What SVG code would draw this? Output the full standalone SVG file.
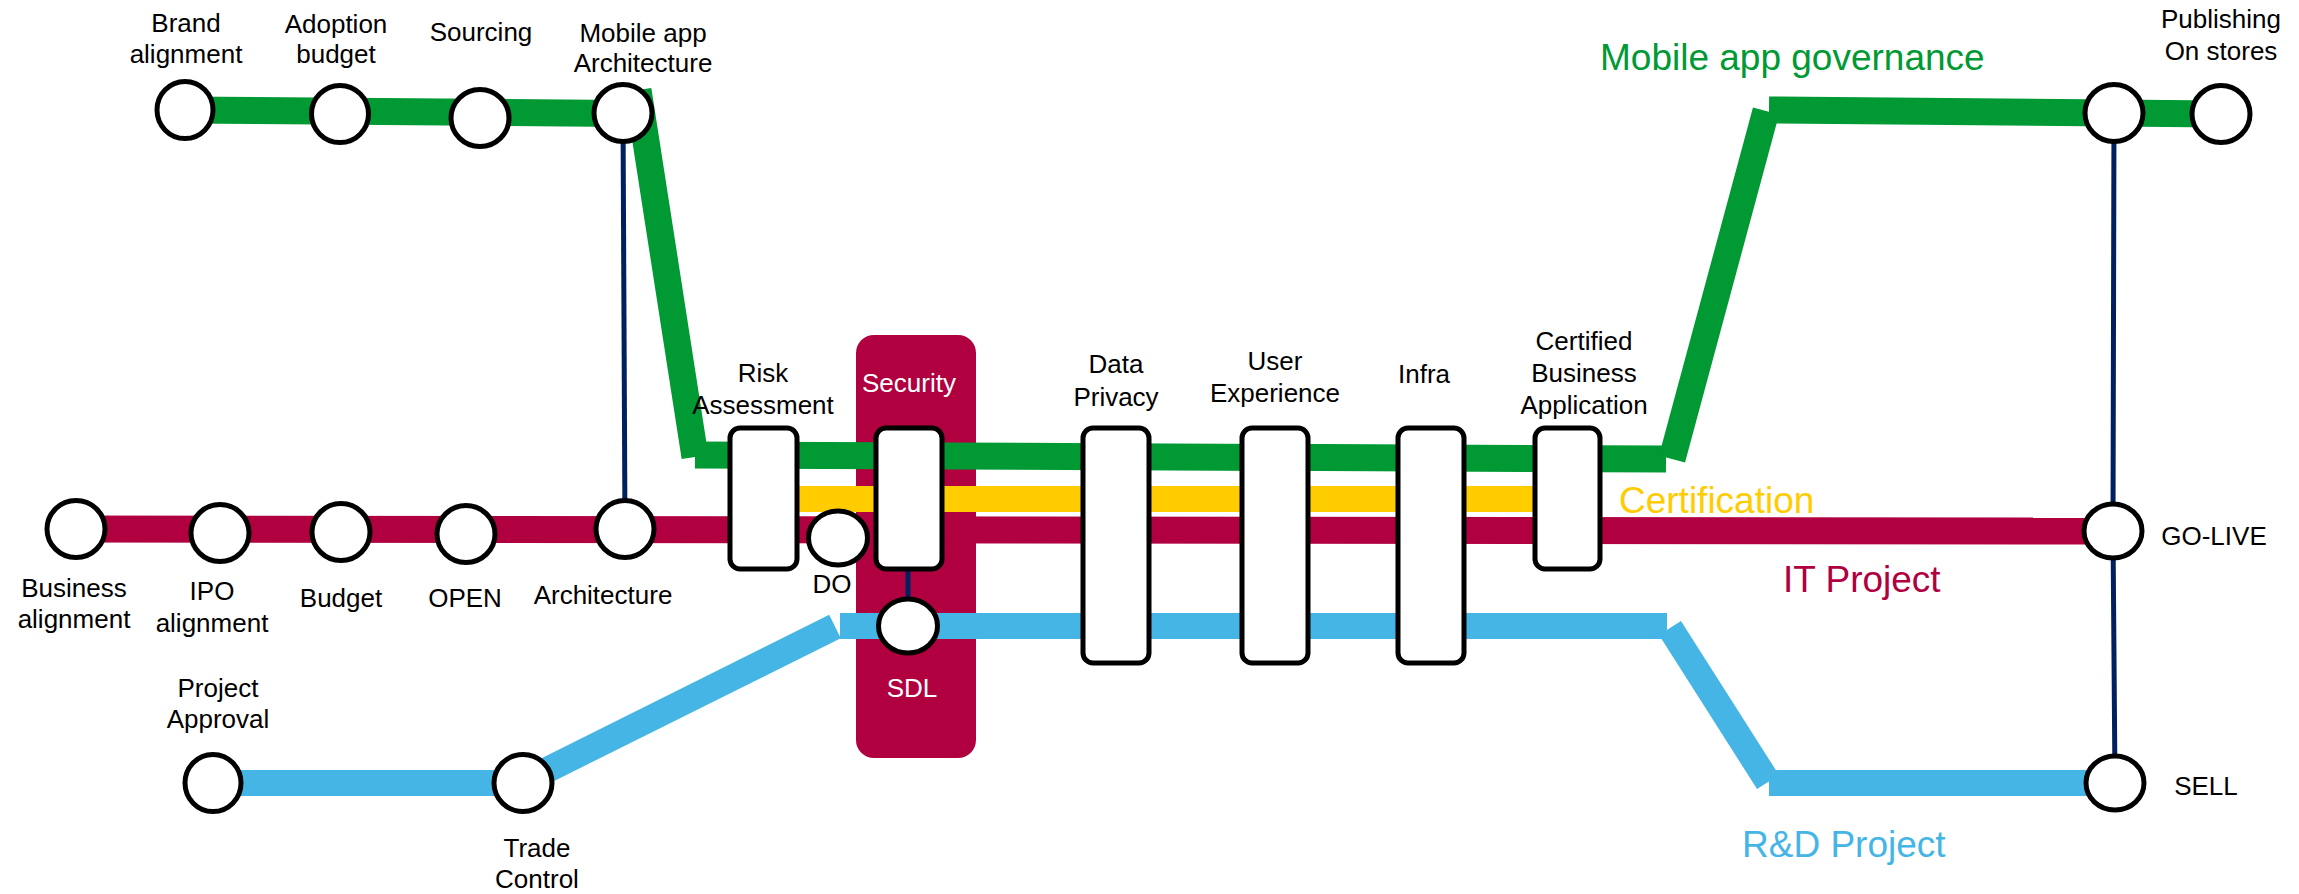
<svg xmlns="http://www.w3.org/2000/svg" width="2299" height="894" viewBox="0 0 2299 894">
<style>
text{font-family:"Liberation Sans",Arial,sans-serif;font-size:26px;fill:#000;text-anchor:middle}
.big{font-size:37px;text-anchor:start}
.wt{fill:#fff}
.st{fill:#fff;stroke:#000;stroke-width:5}
.ln{fill:none;stroke-linecap:butt}
.g{stroke:#009933;stroke-width:27}
.r{stroke:#B0003F;stroke-width:27}
.y{stroke:#FFCC00;stroke-width:26}
.b{stroke:#45B5E6;stroke-width:26}
.n{stroke:#002060;stroke-width:5}
</style>
<rect width="2299" height="894" fill="#fff"/>
<g id="security-zone">
<rect x="856" y="335" width="120" height="423" rx="18" fill="#B0003F"/>
<text class="wt" x="909" y="392">Security</text>
<text class="wt" x="912" y="697">SDL</text>
</g>
<g id="connectors">
<line class="ln n" x1="623" y1="113" x2="625" y2="529"/>
<polyline class="ln n" points="2114,113 2113,531 2115,783"/>
<line class="ln n" x1="908" y1="566" x2="908" y2="600"/>
<line class="ln r" x1="76" y1="529" x2="2113" y2="531"/>
<line class="ln y" x1="763" y1="499" x2="1567" y2="499"/>
<line class="ln g" x1="185" y1="110" x2="623" y2="113.5"/>
<line class="ln g" x1="638" y1="90" x2="695" y2="457"/>
<line class="ln g" x1="695" y1="455" x2="1666" y2="459"/>
<line class="ln g" x1="1672" y1="459" x2="1766" y2="111"/>
<line class="ln g" x1="1769" y1="110" x2="2221" y2="114"/>
<line class="ln b" x1="213" y1="783" x2="523" y2="783"/>
<line class="ln b" x1="523" y1="782" x2="835" y2="626.5"/>
<line class="ln b" x1="840" y1="626" x2="1667" y2="626"/>
<line class="ln b" x1="1670" y1="628" x2="1768" y2="782"/>
<line class="ln b" x1="1769" y1="783" x2="2115" y2="783"/>
</g>
<g id="brand-alignment"><ellipse class="st" cx="185" cy="110" rx="28" ry="28.5"/><text x="186" y="32">Brand</text><text x="186" y="63">alignment</text></g>
<g id="adoption-budget"><ellipse class="st" cx="340" cy="114" rx="28.5" ry="28.5"/><text x="336" y="33">Adoption</text><text x="336" y="63">budget</text></g>
<g id="sourcing"><ellipse class="st" cx="480" cy="118" rx="29" ry="28.5"/><text x="481" y="41">Sourcing</text></g>
<g id="mobile-app-architecture"><ellipse class="st" cx="623" cy="113" rx="29" ry="28.5"/><text x="643" y="42">Mobile app</text><text x="643" y="72">Architecture</text></g>
<g id="business-alignment"><ellipse class="st" cx="76" cy="529" rx="29" ry="28.5"/><text x="74" y="597">Business</text><text x="74" y="628">alignment</text></g>
<g id="ipo-alignment"><ellipse class="st" cx="220" cy="533" rx="29" ry="28.5"/><text x="212" y="600">IPO</text><text x="212" y="632">alignment</text></g>
<g id="budget"><ellipse class="st" cx="341" cy="532" rx="29" ry="28.5"/><text x="341" y="607">Budget</text></g>
<g id="open"><ellipse class="st" cx="466" cy="534" rx="29" ry="28.5"/><text x="465" y="607">OPEN</text></g>
<g id="architecture"><ellipse class="st" cx="625" cy="529" rx="29" ry="28.5"/><text x="603" y="604">Architecture</text></g>
<g id="project-approval"><ellipse class="st" cx="213" cy="783" rx="28" ry="28.5"/><text x="218" y="697">Project</text><text x="218" y="728">Approval</text></g>
<g id="trade-control"><ellipse class="st" cx="523" cy="783" rx="29" ry="28.5"/><text x="537" y="857">Trade</text><text x="537" y="888">Control</text></g>
<g id="risk-assessment"><rect class="st" x="730" y="428" width="67" height="141" rx="10"/><text x="763" y="382">Risk</text><text x="763" y="414">Assessment</text></g>
<g id="do"><ellipse class="st" cx="838" cy="538" rx="29.5" ry="27"/><text x="832" y="593">DO</text></g>
<g id="security"><rect class="st" x="876" y="428" width="66" height="141" rx="10"/></g>
<g id="sdl"><ellipse class="st" cx="908" cy="626" rx="29.5" ry="27"/></g>
<g id="data-privacy"><rect class="st" x="1083" y="428" width="66" height="235" rx="10"/><text x="1116" y="373">Data</text><text x="1116" y="406">Privacy</text></g>
<g id="user-experience"><rect class="st" x="1242" y="428" width="66" height="235" rx="10"/><text x="1275" y="370">User</text><text x="1275" y="402">Experience</text></g>
<g id="infra"><rect class="st" x="1398" y="428" width="66" height="235" rx="10"/><text x="1424" y="383">Infra</text></g>
<g id="certified-business-application"><rect class="st" x="1535" y="428" width="65" height="141" rx="10"/><text x="1584" y="350">Certified</text><text x="1584" y="382">Business</text><text x="1584" y="414">Application</text></g>
<g id="publishing-hub"><ellipse class="st" cx="2114" cy="113" rx="29" ry="28.5"/></g>
<g id="publishing-on-stores"><ellipse class="st" cx="2221" cy="114" rx="29" ry="28.5"/><text x="2221" y="28">Publishing</text><text x="2221" y="60">On stores</text></g>
<g id="go-live"><ellipse class="st" cx="2113" cy="531" rx="29" ry="27"/><text x="2214" y="545">GO-LIVE</text></g>
<g id="sell"><ellipse class="st" cx="2115" cy="783" rx="29" ry="27"/><text x="2206" y="795">SELL</text></g>
<g id="line-labels">
<text class="big" x="1600" y="70" fill="#009933" style="fill:#009933">Mobile app governance</text>
<text class="big" x="1619" y="513" style="fill:#FFCC00">Certification</text>
<text class="big" x="1783" y="592" style="fill:#B0003F">IT Project</text>
<text class="big" x="1742" y="857" style="fill:#45B5E6">R&amp;D Project</text>
</g>
</svg>
